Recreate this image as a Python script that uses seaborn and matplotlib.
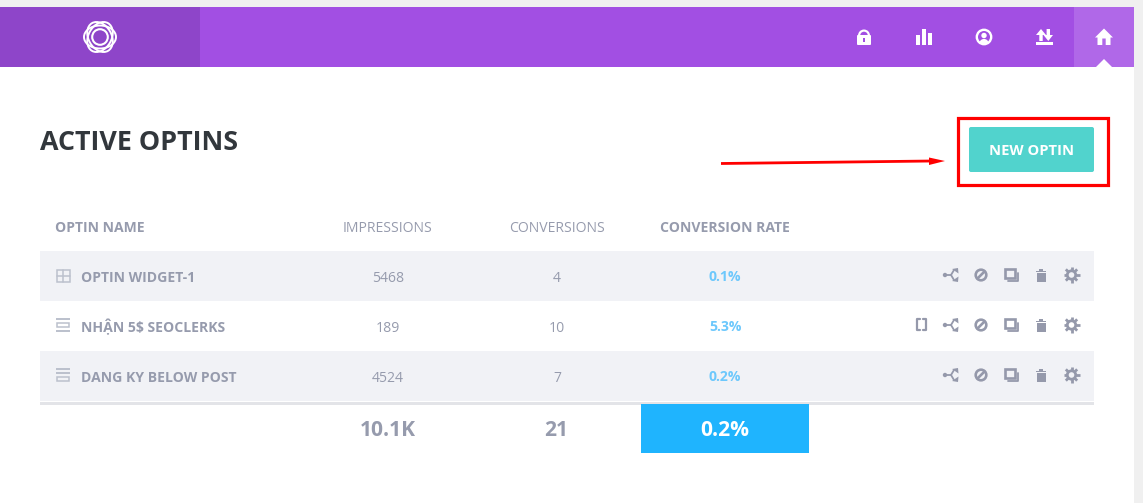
import numpy as np
import matplotlib
matplotlib.use("Agg")
import matplotlib.pyplot as plt
from matplotlib.patches import Rectangle, FancyBboxPatch, Circle, Ellipse, Polygon, Wedge
import seaborn as sns

sns.set_style("white")
plt.rcParams['font.family'] = ['Open Sans', 'DejaVu Sans']

# ---- data ----
columns = ["OPTIN NAME", "IMPRESSIONS", "CONVERSIONS", "CONVERSION RATE"]
names = ["OPTIN WIDGET-1", "NHẬN 5$ SEOCLERKS", "DANG KY BELOW POST"]
impressions = ["5468", "189", "4524"]
conversions = ["4", "10", "7"]
rates = ["0.1%", "5.3%", "0.2%"]
total_labels = ["10.1K", "21", "0.2%"]
title_text = "ACTIVE OPTINS"
button_text = "NEW OPTIN"

# ---- palette ----
PAGE = "#f0f0f0"; PURPLE = "#a24fe3"; DARK = "#8e45c9"; TAB = "#b068e8"
BAND = "#f1f2f6"; GREY = "#969bad"; LGREY = "#bcc1cd"; ICON = "#9599ab"
BLUE = "#6dc8fc"; BOX = "#1fb4fe"; TEAL = "#51d3cd"; RED = "#ff0000"; INK = "#32373c"

fig = plt.figure(figsize=(11.43, 5.03), dpi=100, facecolor=PAGE)
ax = fig.add_axes([0, 0, 1, 1])
W, H = 1143, 503

# table bands through seaborn
row_y = [276, 326, 376]
sns.barplot(x=[1054, 1054, 1054], y=row_y, orient="h", native_scale=True, left=40,
            width=1.0, hue=["a", "b", "a"], palette={"a": BAND, "b": "#ffffff"},
            legend=False, ax=ax, zorder=2, linewidth=0, saturation=1)
ax.set_xlim(0, W); ax.set_ylim(H, 0); ax.axis("off")
ax.set_position([0, 0, 1, 1])

def rect(x0, y0, x1, y1, c, z=1, **k):
    ax.add_patch(Rectangle((x0, y0), x1 - x0, y1 - y0, fc=c, ec="none", zorder=z, **k))

def px(p):
    return p * 0.72

# page panels
rect(0, 7, 1134, 503, "#ffffff", 0)
rect(0, 7, 1134, 67, PURPLE, 1)
rect(0, 7, 200, 67, DARK, 1.1)
rect(1074, 7, 1134, 67, TAB, 1.1)
ax.add_patch(Polygon([[1096, 67], [1104, 59], [1112, 67]], fc="#ffffff", ec="none", zorder=2))

# logo: interlaced ellipses around a ring
for a in (0, 60, 120):
    ax.add_patch(Ellipse((100, 37), 32, 23, angle=a, fc="none", ec="#ffffff", lw=1.4, zorder=3))
ax.add_patch(Circle((100, 37), 7.8, fc="none", ec="#ffffff", lw=1.5, zorder=3))

# lock
ax.add_patch(Wedge((864, 35.5), 6, 180, 360, width=2.2, fc="#ffffff", ec="none", zorder=3))
ax.add_patch(FancyBboxPatch((857, 35), 14, 10, boxstyle="round,pad=0,rounding_size=1", fc="#ffffff", ec="none", zorder=3))
ax.add_patch(Rectangle((863, 38), 2, 4, fc=PURPLE, ec="none", zorder=4))
# bars
rect(916, 35, 920, 45, "#ffffff", 3); rect(922, 29, 926, 45, "#ffffff", 3); rect(928, 33, 932, 45, "#ffffff", 3)
# user circle
ax.add_patch(Circle((984, 37), 7.2, fc="none", ec="#ffffff", lw=1.7, zorder=3))
ax.add_patch(Circle((984, 35.5), 2.7, fc="#ffffff", ec="none", zorder=3))
ax.add_patch(Wedge((984, 43.5), 4.6, 180, 360, fc="#ffffff", ec="none", zorder=3))
# up/down arrows
ax.add_patch(Polygon([[1036, 35], [1041, 29], [1046, 35], [1042.7, 35], [1042.7, 41], [1039.3, 41], [1039.3, 35]], fc="#ffffff", ec="none", zorder=3))
ax.add_patch(Polygon([[1043.5, 35], [1046.6, 35], [1046.6, 29], [1050, 29], [1050, 35], [1053, 35], [1048.3, 41]], fc="#ffffff", ec="none", zorder=3))
rect(1036, 42, 1053, 45, "#ffffff", 3)
# home
ax.add_patch(Polygon([[1095, 37.5], [1104, 28.5], [1113, 37.5], [1110.5, 37.5], [1110.5, 45], [1105.7, 45], [1105.7, 38.5], [1102.3, 38.5], [1102.3, 45], [1097.5, 45], [1097.5, 37.5]], fc="#ffffff", ec="none", zorder=3))

# title
ax.text(40, 143.5, title_text, fontsize=px(26.95), fontweight="bold", color=INK, va="center", ha="left", zorder=5)

# annotation
ax.add_patch(Rectangle((957.5, 117.5), 150, 67, fc="none", ec=RED, lw=2.3, zorder=5))
ax.add_patch(FancyBboxPatch((969, 127), 125, 45, boxstyle="round,pad=0,rounding_size=2", fc=TEAL, ec="none", zorder=3))
ax.text(1031.5, 151, button_text, fontsize=px(14.7), fontweight="bold", color="#ffffff", ha="center", va="center", zorder=5)
ax.plot([721, 932], [163.5, 161], color=RED, lw=2.0, zorder=5, solid_capstyle="butt")
ax.add_patch(Polygon([[929, 157.5], [945, 161], [929, 165]], fc=RED, ec="none", zorder=5))

# header row
col_x = [388, 557, 725]
ax.text(55, 228, columns[0], fontsize=px(14), fontweight="bold", color=GREY, va="center", ha="left", zorder=5)
ax.text(col_x[0], 228, columns[1], fontsize=px(14), color=GREY, va="center", ha="center", zorder=5)
ax.text(col_x[1] - 0.5, 228, columns[2], fontsize=px(14), color=GREY, va="center", ha="center", zorder=5)
ax.text(col_x[2], 228, columns[3], fontsize=px(14), fontweight="bold", color=GREY, va="center", ha="center", zorder=5)

# rows
for i, y in enumerate(row_y):
    ax.text(81, y + 1.5, names[i], fontsize=px(14), fontweight="bold", color=GREY, va="center", ha="left", zorder=5)
    ax.text(col_x[0], y + 2, impressions[i], fontsize=px(14), color=GREY, va="center", ha="center", zorder=5)
    ax.text(col_x[1], y + 2, conversions[i], fontsize=px(14), color=GREY, va="center", ha="center", zorder=5)
    ax.text(col_x[2], y + 1, rates[i], fontsize=px(14), fontweight="bold", color=BLUE, va="center", ha="center", zorder=5)

# left row icons
ax.add_patch(Rectangle((56.5, 269.5), 13, 12, fc="none", ec=LGREY, lw=1.1, zorder=5))
ax.plot([56.5, 69.5], [275.5, 275.5], color=LGREY, lw=1.1, zorder=5)
ax.plot([63, 63], [269.5, 281.5], color=LGREY, lw=1.1, zorder=5)
rect(56, 318, 70, 320, LGREY, 5); rect(56, 330, 70, 332, LGREY, 5)
ax.add_patch(Rectangle((57, 323), 12, 4, fc="none", ec=LGREY, lw=1.1, zorder=5))
rect(56, 368, 70, 370, LGREY, 5); rect(56, 372, 70, 374, LGREY, 5)
ax.add_patch(Rectangle((57, 377), 12, 4, fc="none", ec=LGREY, lw=1.1, zorder=5))

# action icons
def share(x, y):
    ax.add_patch(Circle((x - 6, y), 2.2, fc=ICON, ec="none", zorder=5))
    ax.plot([x - 6, x, x + 3], [y, y, y - 5], color=ICON, lw=1.3, zorder=5)
    ax.plot([x, x + 3], [y, y + 5], color=ICON, lw=1.3, zorder=5)
    ax.add_patch(Polygon([[x + 1, y - 6], [x + 7, y - 7], [x + 7.5, y - 1.5]], fc=ICON, ec="none", zorder=5))
    ax.add_patch(Polygon([[x + 1, y + 6], [x + 7, y + 7], [x + 7.5, y + 1.5]], fc=ICON, ec="none", zorder=5))

def ban(x, y):
    ax.add_patch(Circle((x, y), 5.3, fc="none", ec=ICON, lw=1.9, zorder=5))
    ax.plot([x - 3.5, x + 3.5], [y + 3.5, y - 3.5], color=ICON, lw=1.9, zorder=5)

def copy(x, y):
    ax.add_patch(Rectangle((x - 6, y - 6), 10, 9, fc="none", ec=ICON, lw=1.9, zorder=5))
    ax.plot([x + 7, x + 7, x - 3], [y - 2, y + 6, y + 6], color=ICON, lw=1.3, zorder=5)

def trash(x, y):
    rect(x - 4.5, y - 2.5, x + 4.5, y + 6.5, ICON, 5)
    rect(x - 5, y - 4.5, x + 5, y - 3.2, ICON, 5)
    rect(x - 2, y - 6.5, x + 2, y - 4.5, ICON, 5)

def gear(x, y, hole):
    for a in range(0, 180, 45):
        t = np.deg2rad(a)
        ax.plot([x - 8 * np.cos(t), x + 8 * np.cos(t)], [y - 8 * np.sin(t), y + 8 * np.sin(t)],
                color=ICON, lw=2, zorder=5, solid_capstyle="butt")
    ax.add_patch(Circle((x, y), 5.6, fc=ICON, ec="none", zorder=6))
    ax.add_patch(Circle((x, y), 2.8, fc=hole, ec="none", zorder=6))

for y, hole in zip((275, 325, 375), (BAND, "#ffffff", BAND)):
    share(951, y); ban(981, y); copy(1011, y); trash(1041, y); gear(1071.5, y, hole)
ax.plot([919.5, 916.5, 916.5, 919.5], [319, 319, 330, 330], color=ICON, lw=1.6, zorder=5)
ax.plot([922.5, 925.5, 925.5, 922.5], [319, 319, 330, 330], color=ICON, lw=1.6, zorder=5)

# footer
rect(40, 402, 1094, 405, "#e3e4e8", 4)
rect(641, 404, 809, 453, BOX, 5)
ax.text(col_x[0], 430, total_labels[0], fontsize=px(21), fontweight="bold", color=GREY, ha="center", va="center", zorder=6)
ax.text(col_x[1] - 1, 430, total_labels[1], fontsize=px(21), fontweight="bold", color=GREY, ha="center", va="center", zorder=6)
ax.text(col_x[2], 430, total_labels[2], fontsize=px(21), fontweight="bold", color="#ffffff", ha="center", va="center", zorder=6)

fig.savefig("out.png", dpi=100, facecolor=PAGE)
